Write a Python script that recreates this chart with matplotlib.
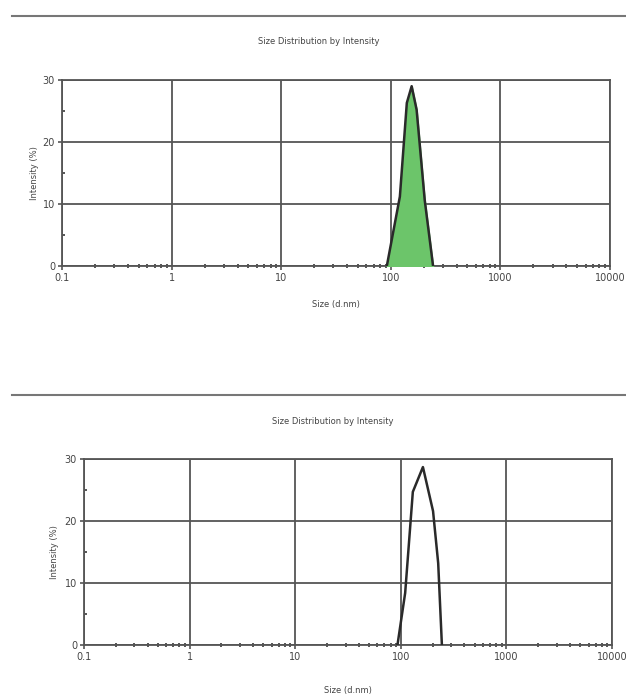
import numpy as np
import matplotlib
matplotlib.use("Agg")
import matplotlib.pyplot as plt
from matplotlib.ticker import LogLocator, FixedLocator, NullFormatter
from matplotlib.lines import Line2D

# values (size in d.nm, intensity in %)
top_size = [92, 121, 140, 155, 172, 204, 243]
top_intensity = [0, 11.2, 26.3, 29.0, 25.2, 10.6, 0]

bottom_size = [93, 110, 130, 162, 202, 226, 245]
bottom_intensity = [0, 8.4, 24.7, 28.7, 21.6, 13.2, 0]

x_ticks = [0.1, 1, 10, 100, 1000, 10000]
x_labels = ["0.1", "1", "10", "100", "1000", "10000"]
y_ticks = [0, 10, 20, 30]

title = "Size Distribution by Intensity"
xlabel = "Size (d.nm)"
ylabel = "Intensity (%)"

W, H = 626, 697
grid_c = "#555555"
text_c = "#444444"

fig = plt.figure(figsize=(W / 100, H / 100), dpi=100)


def px(x0, y0, x1, y1):
    # pixel box -> figure fraction rect
    return [x0 / W, 1 - y1 / H, (x1 - x0) / W, (y1 - y0) / H]


def setup(ax):
    ax.set_xscale("log")
    ax.set_xlim(0.1, 10000)
    ax.set_ylim(0, 30)
    ax.xaxis.set_major_locator(FixedLocator(x_ticks))
    ax.set_xticklabels(x_labels)
    ax.xaxis.set_minor_locator(LogLocator(base=10, subs=np.arange(2, 10)))
    ax.xaxis.set_minor_formatter(NullFormatter())
    ax.set_yticks(y_ticks)
    ax.yaxis.set_minor_locator(FixedLocator([5, 15, 25]))
    ax.grid(True, which="major", color=grid_c, lw=1.3)
    for s in ax.spines.values():
        s.set_color(grid_c)
        s.set_linewidth(1.3)
    ax.tick_params(which="major", length=3, width=1.2, color=grid_c,
                   labelsize=7, labelcolor=text_c, pad=2)
    ax.tick_params(which="minor", length=2.2, width=1.4, color=grid_c,
                   direction="inout")
    ax.yaxis.set_tick_params(which="minor", direction="in")


# top panel
ax1 = fig.add_axes(px(62, 80, 610, 266))
setup(ax1)
ax1.fill_between(top_size, top_intensity, color="#6cc56a", zorder=3)
ax1.plot(top_size, top_intensity, color="#2a2a2a", lw=1.8, zorder=4)
ax1.set_ylabel(ylabel, fontsize=6, color=text_c, labelpad=3)
ax1.set_xlabel(xlabel, fontsize=6, color=text_c, labelpad=12)

# bottom panel
ax2 = fig.add_axes(px(84, 459, 612, 645))
setup(ax2)
ax2.plot(bottom_size, bottom_intensity, color="#2a2a2a", lw=1.8, zorder=4)
ax2.set_ylabel(ylabel, fontsize=6, color=text_c, labelpad=4)
ax2.set_xlabel(xlabel, fontsize=6, color=text_c, labelpad=17)

# titles and separator lines
fig.text(319 / W, 1 - 42 / H, title, fontsize=6, color=text_c,
         ha="center", va="center")
fig.text(333 / W, 1 - 422 / H, title, fontsize=6, color=text_c,
         ha="center", va="center")
for yy in (16, 395):
    fig.add_artist(Line2D([12 / W, 1], [1 - yy / H, 1 - yy / H],
                          color="#777777", lw=1.5))

fig.savefig("out.png", dpi=100)
